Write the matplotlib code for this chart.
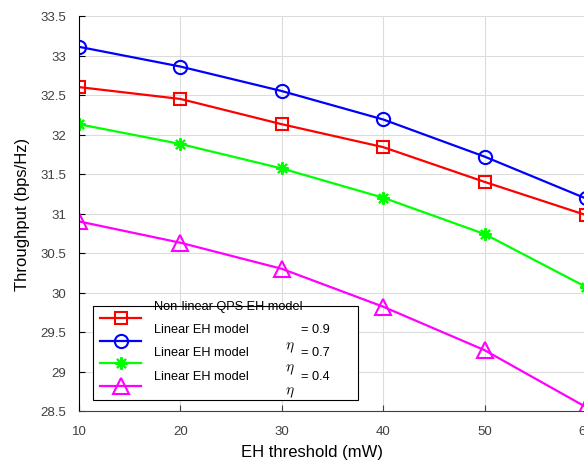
import numpy as np
import matplotlib
matplotlib.use('Agg')
import matplotlib.pyplot as plt

plt.rcParams['font.family'] = ['Liberation Sans', 'DejaVu Sans']

threshold = [10, 20, 30, 40, 50, 60]
nonlinear_qps = [32.60, 32.45, 32.13, 31.84, 31.40, 30.98]
linear_09 = [33.11, 32.86, 32.55, 32.19, 31.72, 31.19]
linear_07 = [32.13, 31.88, 31.57, 31.20, 30.74, 30.07]
linear_04 = [30.90, 30.63, 30.30, 29.82, 29.27, 28.55]

W, H = 584, 464
fig = plt.figure(figsize=(W / 100, H / 100), dpi=100)
ax = fig.add_axes([79 / W, 1 - 412 / H, 507 / W, 395 / H])

lw = 1.6
l1, = ax.plot(threshold, nonlinear_qps, color='red', lw=lw, marker='s', ms=8, mfc='none', mew=1.5)
l2, = ax.plot(threshold, linear_09, color='blue', lw=lw, marker='o', ms=9.5, mfc='none', mew=1.5)
l3, = ax.plot(threshold, linear_07, color=(0, 1, 0), lw=lw, marker=(8, 2, 0), ms=9, mew=1.5)
l4, = ax.plot(threshold, linear_04, color=(1, 0, 1), lw=lw, marker='^', ms=11, mfc='none', mew=1.5)

ax.set_xlim(10, 60)
ax.set_ylim(28.5, 33.5)
ax.set_xticks([10, 20, 30, 40, 50, 60])
ax.set_yticks(np.arange(28.5, 33.51, 0.5))
ax.set_yticklabels(['28.5', '29', '29.5', '30', '30.5', '31', '31.5', '32', '32.5', '33', '33.5'])
ax.grid(True, color='#dcdcdc', lw=0.8)
ax.set_axisbelow(True)
ax.tick_params(direction='in', labelsize=9.5, labelcolor='#404040', length=4)
ax.tick_params(axis='x', pad=10, colors='#404040')
ax.tick_params(axis='y', pad=9, colors='black', labelcolor='#404040')
for s in ['top', 'right']:
    ax.spines[s].set_visible(False)
ax.spines['left'].set_color('black')
ax.spines['bottom'].set_color('#404040')

ax.set_xlabel('EH threshold (mW)', fontsize=12)
ax.set_ylabel('Throughput (bps/Hz)', fontsize=12)
ax.xaxis.set_label_coords((312 - 79) / 507, -(452 - 412) / 395)
ax.yaxis.set_label_coords((22 - 79) / 507, 0.5)
ax.xaxis.label.set_va('center')
ax.yaxis.label.set_va('center')

leg = ax.legend([l1, l2, l3, l4], [' '] * 4, loc='lower left',
                bbox_to_anchor=((93 - 79) / 507, (412 - 401) / 395, (358 - 93) / 507, (401 - 307) / 395),
                mode='expand', fancybox=False, edgecolor='black', framealpha=1,
                handlelength=3.3, borderaxespad=0, labelspacing=0.85, fontsize=9,
                borderpad=0.55)
leg.get_frame().set_linewidth(0.8)

def ftext(x, y, s, **kw):
    fig.text(x / W, 1 - y / H, s, va='center', ha='left', fontsize=9.2, **kw)

ftext(154, 307, 'Non-linear QPS EH model')
ftext(154, 330, 'Linear EH model')
ftext(154, 353, 'Linear EH model')
ftext(154, 377, 'Linear EH model')
ftext(301, 330, '= 0.9')
ftext(301, 353, '= 0.7')
ftext(301, 377, '= 0.4')
for y in [348, 370, 393]:
    fig.text(285 / W, 1 - y / H, r'$\eta$', va='center', ha='left', fontsize=11, math_fontfamily='cm')

fig.savefig('out.png', dpi=100)
